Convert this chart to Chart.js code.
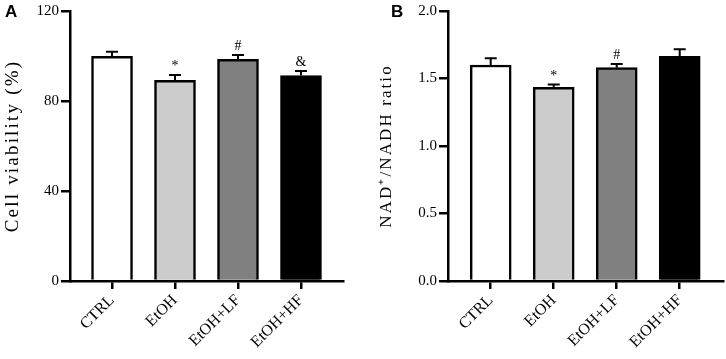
<!DOCTYPE html>
<html><head><meta charset="utf-8">
<script src="https://cdn.jsdelivr.net/npm/chart.js@4/dist/chart.umd.min.js"></script>
<style>
html,body{margin:0;padding:0;background:#fff;}
#wrap{position:relative;width:726px;height:359px;overflow:hidden;}
canvas{position:absolute;top:0;}
</style></head><body>
<div id="wrap">
<canvas id="chartA" width="363" height="359" style="left:0"></canvas>
<canvas id="chartB" width="363" height="359" style="left:363px"></canvas>
</div>
<script>
// ---- data ----
const categories = ['CTRL', 'EtOH', 'EtOH+LF', 'EtOH+HF'];
const viability = [99.8, 89.2, 98.5, 91.3];
const viabilityErr = [2.1, 2.4, 2.0, 2.0];
const viabilityMarks = ['', '*', '#', '&'];
const viabilityTicks = [0, 40, 80, 120];
const nadRatio = [1.60, 1.435, 1.58, 1.665];
const nadRatioErr = [0.05, 0.02, 0.027, 0.052];
const nadMarks = ['', '*', '#', ''];
const nadTicks = [0, 0.5, 1.0, 1.5, 2.0];
const barColors = ['#ffffff', '#cccccc', '#808080', '#000000'];

const SERIF = '"Liberation Serif", "Times New Roman", serif';

const errorBarPlugin = {
  id: 'errorBars',
  afterDatasetsDraw(chart, args, opts) {
    const {ctx} = chart;
    const x = chart.scales.x, y = chart.scales.y;
    ctx.save();
    ctx.strokeStyle = '#000';
    ctx.fillStyle = '#000';
    ctx.lineWidth = 2;
    ctx.font = '14px ' + SERIF;
    ctx.textAlign = 'center';
    ctx.textBaseline = 'alphabetic';
    opts.values.forEach((v, i) => {
      const px = x.getPixelForValue(i);
      const y0 = y.getPixelForValue(v);
      const y1 = y.getPixelForValue(v + opts.errors[i]);
      ctx.beginPath();
      ctx.moveTo(px, y0); ctx.lineTo(px, y1);
      ctx.moveTo(px - 6, y1); ctx.lineTo(px + 6, y1);
      ctx.stroke();
      if (opts.marks[i]) ctx.fillText(opts.marks[i], px, y1 - 5);
    });
    ctx.restore();
  }
};

const panelLetterPlugin = {
  id: 'panelLetter',
  afterDraw(chart, args, opts) {
    const {ctx} = chart;
    ctx.save();
    ctx.fillStyle = '#000';
    ctx.font = 'bold 17px "Liberation Sans", Arial, sans-serif';
    ctx.textAlign = 'left';
    ctx.textBaseline = 'alphabetic';
    ctx.fillText(opts.text, opts.x, opts.y);
    ctx.restore();
  }
};

const spacedTitlePlugin = {
  id: 'spacedTitle',
  beforeDraw(chart, args, opts) {
    const s = chart.scales.y;
    if (s && !s._spacedWrapped) {
      const orig = s.drawTitle;
      s.drawTitle = function () {
        const ctx = this.ctx;
        ctx.save();
        ctx.letterSpacing = opts.spacing;
        orig.call(this);
        ctx.restore();
      };
      s._spacedWrapped = true;
    }
  }
};

function makeChart(id, cfg) {
  return new Chart(document.getElementById(id), {
    type: 'bar',
    data: {
      datasets: [{
        data: categories.map((c, i) => ({x: i, y: cfg.values[i]})),
        backgroundColor: barColors,
        borderColor: '#000',
        borderWidth: 2.5,
        barThickness: 41
      }]
    },
    plugins: [errorBarPlugin, panelLetterPlugin, spacedTitlePlugin],
    options: {
      responsive: false,
      animation: false,
      devicePixelRatio: 1,
      layout: {padding: cfg.padding},
      plugins: {
        legend: {display: false},
        tooltip: {enabled: false},
        errorBars: {values: cfg.values, errors: cfg.errors, marks: cfg.marks},
        panelLetter: cfg.letter,
        spacedTitle: {spacing: cfg.titleSpacing}
      },
      scales: {
        x: {
          type: 'linear',
          offset: false,
          min: cfg.xMin, max: cfg.xMax,
          afterBuildTicks: s => { s.ticks = categories.map((c, i) => ({value: i})); },
          afterFit: s => { s.height = 78; },
          border: {display: true, color: '#000', width: 2.5},
          grid: {display: true, offset: false, drawOnChartArea: false, drawTicks: true, tickLength: 8, color: '#000', lineWidth: 2.5},
          ticks: {
            color: '#000', font: {family: SERIF, size: 16},
            minRotation: 45, maxRotation: 45, autoSkip: false, padding: 2,
            callback: v => categories[v]
          }
        },
        y: {
          min: cfg.yMin, max: cfg.yMax,
          afterBuildTicks: s => { s.ticks = cfg.ticks.map(v => ({value: v})); },
          afterFit: s => { s.width = cfg.yWidth; },
          border: {display: true, color: '#000', width: 2.5},
          grid: {display: true, drawOnChartArea: false, drawTicks: true, tickLength: 9, color: '#000', lineWidth: 2.5},
          ticks: {color: '#000', font: {family: SERIF, size: 15}, padding: 2, callback: cfg.tickFmt},
          title: {display: true, text: cfg.title, color: '#000',
                  font: {family: SERIF, size: cfg.titleSize}, padding: {top: cfg.titlePad, bottom: 0}}
        }
      }
    }
  });
}

makeChart('chartA', {
  values: viability, errors: viabilityErr, marks: viabilityMarks, ticks: viabilityTicks,
  yMin: 0, yMax: 120, xMin: -0.667, xMax: 3.667,
  padding: {left: 0, top: 9, right: 20, bottom: 0},
  yWidth: 70, title: 'Cell viability (%)', titleSize: 19, titlePad: 2, titleSpacing: '2.2px',
  tickFmt: v => String(v),
  letter: {text: 'A', x: 5, y: 17}
});

makeChart('chartB', {
  values: nadRatio, errors: nadRatioErr, marks: nadMarks, ticks: nadTicks,
  yMin: 0, yMax: 2, xMin: -0.678, xMax: 3.687,
  padding: {left: 0, top: 10, right: 3, bottom: 0},
  yWidth: 85, title: 'NAD\u207A/NADH ratio', titleSize: 17, titlePad: 13, titleSpacing: '2.1px',
  tickFmt: v => v.toFixed(1),
  letter: {text: 'B', x: 28, y: 17}
});
</script>
</body></html>
